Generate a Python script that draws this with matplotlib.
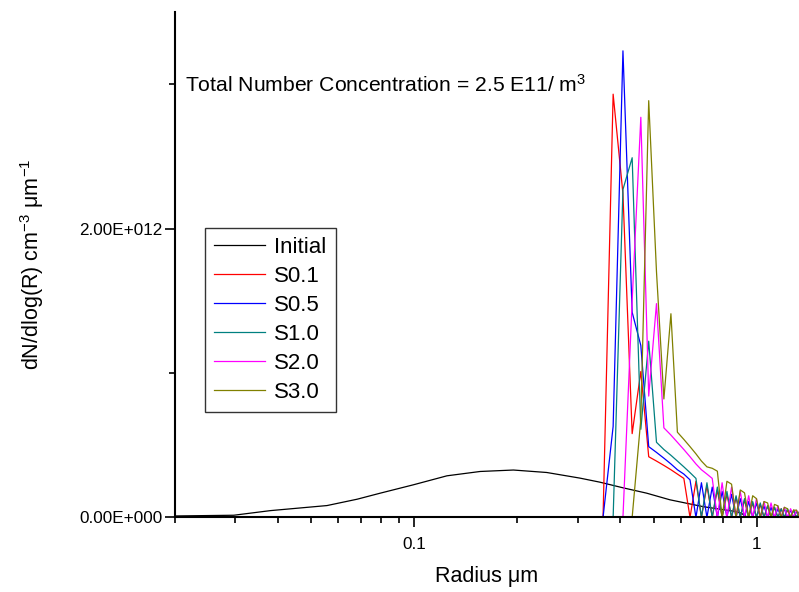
import matplotlib
matplotlib.use('Agg')
import matplotlib.pyplot as plt
from matplotlib.ticker import FixedLocator, NullFormatter, FixedFormatter

plt.rcParams['font.family'] = ['Liberation Sans', 'DejaVu Sans']
plt.rcParams['mathtext.default'] = 'regular'

# Initial distribution (radius in um, dN/dlogR in 1E12)
initial_r = [0.020, 0.0297, 0.038, 0.0556, 0.0681, 0.0796, 0.0995, 0.1246, 0.1558,
             0.1948, 0.2437, 0.3048, 0.3484, 0.407, 0.477, 0.558, 0.696, 0.872,
             0.902, 0.941, 1.33]
initial_n = [0.010, 0.015, 0.047, 0.082, 0.126, 0.168, 0.226, 0.288, 0.318,
             0.328, 0.311, 0.272, 0.244, 0.205, 0.168, 0.122, 0.075, 0.040,
             0.029, 0.0, 0.0]

# radius bins of the simulated spectra
radius = [0.02, 0.356, 0.381, 0.407, 0.433, 0.459, 0.484, 0.510, 0.536, 0.562, 0.587,
          0.613, 0.639, 0.665, 0.690, 0.716, 0.742, 0.768, 0.793, 0.819, 0.845,
          0.871, 0.896, 0.922, 0.948, 0.974, 0.999, 1.025, 1.051, 1.077, 1.102,
          1.128, 1.154, 1.180, 1.205, 1.231, 1.257, 1.283, 1.308, 1.334]

s01 = [0, 0, 2.93, 2.24, 0.58, 1.01, 0.42, 0.39, 0.36, 0.33, 0.30, 0.27, 0, 0.25, 0,
       0.22, 0, 0.19, 0, 0.16, 0, 0.14, 0, 0.12, 0, 0.10, 0, 0.09, 0, 0.08, 0,
       0.07, 0, 0.06, 0, 0.05, 0, 0.05, 0, 0.04]
s05 = [0, 0, 0.63, 3.23, 1.42, 1.19, 0.49, 0.45, 0.41, 0.37, 0.33, 0.30, 0.26, 0,
       0.24, 0, 0.21, 0, 0.18, 0, 0.16, 0, 0.13, 0, 0.11, 0, 0.10, 0, 0.08, 0,
       0.07, 0, 0.06, 0, 0.06, 0, 0.05, 0, 0.04, 0]
s10 = [0, 0, 0, 2.27, 2.49, 0.61, 1.22, 0.52, 0.47, 0.43, 0.39, 0.35, 0.31, 0.27, 0,
       0.24, 0, 0.21, 0, 0.18, 0, 0.15, 0, 0.13, 0, 0.11, 0, 0.10, 0, 0.08, 0,
       0.07, 0, 0.06, 0, 0.06, 0, 0.05, 0, 0.04]
s20 = [0, 0, 0, 0, 1.50, 2.77, 0.84, 1.48, 0.62, 0.57, 0.52, 0.47, 0.42, 0.37, 0.33,
       0.30, 0.27, 0, 0.24, 0, 0.21, 0, 0.18, 0, 0.15, 0, 0.13, 0, 0.11, 0, 0.10,
       0, 0.08, 0, 0.07, 0, 0.06, 0, 0.05, 0]
s30 = [0, 0, 0, 0, 0, 0.68, 2.885, 1.70, 0.82, 1.41, 0.59, 0.54, 0.49, 0.44, 0.39,
       0.35, 0.34, 0.32, 0, 0.25, 0.23, 0, 0.19, 0.17, 0, 0.15, 0.13, 0, 0.11,
       0.10, 0, 0.09, 0.08, 0, 0.07, 0.06, 0, 0.05, 0.05, 0]

series = [('S0.1', s01, '#FF0000'), ('S0.5', s05, '#0000FF'), ('S1.0', s10, '#008080'),
          ('S2.0', s20, '#FF00FF'), ('S3.0', s30, '#808000')]

fig = plt.figure(figsize=(7.99, 5.92), dpi=100)
ax = fig.add_axes([0.219, 0.126, 0.781, 0.854])

ax.plot(initial_r, [v * 1e12 for v in initial_n], color='black', lw=0.9, label='Initial')
for name, vals, col in series:
    ax.plot(radius, [v * 1e12 for v in vals], color=col, lw=0.9, label=name)

ax.set_xscale('log')
ax.set_xlim(0.02, 1.33)
ax.set_ylim(0, 3.5e12)

ax.yaxis.set_major_locator(FixedLocator([0, 2e12]))
ax.yaxis.set_major_formatter(FixedFormatter(['0.00E+000', '2.00E+012']))
ax.yaxis.set_minor_locator(FixedLocator([1e12, 3e12]))
ax.xaxis.set_major_locator(FixedLocator([0.1, 1]))
ax.xaxis.set_major_formatter(FixedFormatter(['0.1', '1']))
ax.xaxis.set_minor_locator(FixedLocator([0.02, 0.03, 0.04, 0.05, 0.06, 0.07, 0.08, 0.09,
                                         0.2, 0.3, 0.4, 0.5, 0.6, 0.7, 0.8, 0.9]))
ax.xaxis.set_minor_formatter(NullFormatter())

for s in ['top', 'right']:
    ax.spines[s].set_visible(False)
for s in ['left', 'bottom']:
    ax.spines[s].set_linewidth(1.5)
ax.tick_params(which='major', direction='out', length=7, width=1.2, labelsize=12.3)
ax.tick_params(axis='x', which='major', pad=7)
ax.tick_params(axis='y', which='major', pad=2)
ax.tick_params(which='minor', direction='out', length=4, width=1.2)

ax.set_xlabel('Radius μm', fontsize=15.5, labelpad=10)
ax.set_ylabel('dN/dlog(R) cm$^{-3}$ μm$^{-1}$', fontsize=15.5, labelpad=24)

ax.text(0.016, 0.855, 'Total Number Concentration = 2.5 E11/ m$^{3}$', transform=ax.transAxes,
        fontsize=15.2, va='center', ha='left')

leg = ax.legend(loc='upper left', bbox_to_anchor=(0.048, 0.573), borderaxespad=0,
                fontsize=16, frameon=True, fancybox=False, edgecolor='black',
                handlelength=2.3, labelspacing=0.36, borderpad=0.42, handletextpad=0.4)
leg.get_frame().set_linewidth(1.0)

fig.savefig('out.png', dpi=100)
